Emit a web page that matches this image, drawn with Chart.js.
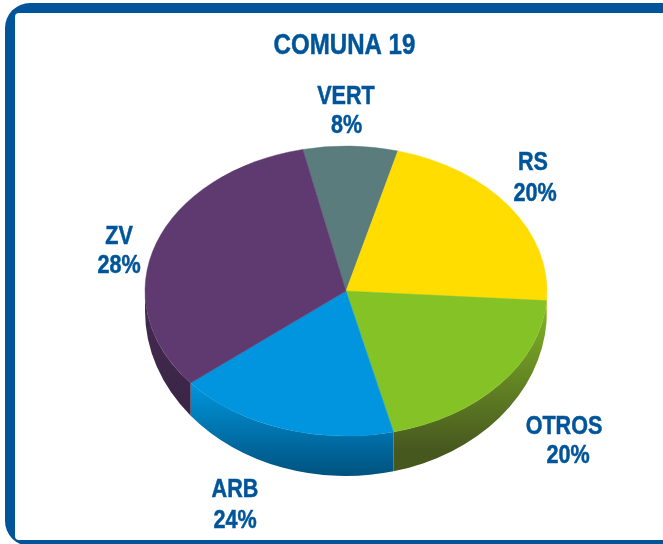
<!DOCTYPE html>
<html>
<head>
<meta charset="utf-8">
<title>Comuna 19</title>
<script src="https://cdn.jsdelivr.net/npm/chart.js@4/dist/chart.umd.min.js"></script>
<style>
    html, body { margin: 0; padding: 0; background: #fff; overflow: hidden; }
    canvas { display: block; }
</style>
</head>
<body>
<canvas id="graficoComuna" width="663" height="544"></canvas>
<script>
//Datos del grafico
const titulo = 'COMUNA 19';
const categorias = ['VERT', 'RS', 'OTROS', 'ARB', 'ZV'];
//Lo que dice cada etiqueta
const porcentajes = ['8%', '20%', '20%', '24%', '28%'];
//Tamano de cada tajada (no coincide con las etiquetas en el original)
const tajadas = [7.6, 21.9, 20.15, 17.85, 32.5];
const colores = ['#5b7c7c', '#ffdd00', '#85c226', '#0095de', '#5e3a71'];
const coloresLadoArriba = ['#5b7c7c', '#ffdd00', '#84b927', '#0095dc', '#432a50'];
const coloresLadoAbajo = ['#3c5252', '#a89200', '#47581f', '#00527f', '#3a2545'];
//Donde empieza y termina el degradado del lado de cada tajada
const ladoDesde = [300, 300, 300, 385, 300];
const ladoHasta = [476, 476, 450, 476, 420];

const AZUL = '#00559a';
const FUENTE = '"Liberation Sans", sans-serif';
//No hay Arial Narrow instalada, se angosta el texto a mano
const ANGOSTO = 0.83;

//Elipse de la cara superior y de la base del pastel
const centroX = 346, centroY = 291, radioY = 145;
const baseY = 311, baseRadioY = 165;

//Posicion de cada etiqueta: x1, y1, x2, y2
const posEtiquetas = [
    [346, 104, 346.5, 133],
    [533, 170, 535, 201],
    [564, 434, 568, 463],
    [235, 497, 235, 528],
    [119, 244, 119, 273]
];

//Marco azul redondeado, se sale por la derecha
const marco = {
    id: 'marco',
    beforeDraw(chart) {
        const ctx = chart.ctx;
        ctx.save();
        ctx.fillStyle = '#fff';
        ctx.fillRect(0, 0, chart.width, chart.height);
        ctx.fillStyle = AZUL;
        ctx.beginPath();
        ctx.roundRect(5, 3, 720, 543, 25);
        ctx.fill();
        ctx.fillStyle = '#fff';
        ctx.beginPath();
        ctx.roundRect(15, 13, 720, 527, 4);
        ctx.fill();
        ctx.restore();
    }
};

//Aplasta el pastel en una elipse y le dibuja el lado en 3D
const pastel3d = {
    id: 'pastel3d',
    beforeDatasetsDraw(chart) {
        const ctx = chart.ctx;
        const arcos = chart.getDatasetMeta(0).data;

        arcos.forEach((arco, i) => {
            const ini = Math.max(arco.startAngle, 0);
            const fin = Math.min(arco.endAngle, Math.PI);
            if (fin <= ini) return;
            const rx = arco.outerRadius;
            const grad = ctx.createLinearGradient(0, ladoDesde[i], 0, ladoHasta[i]);
            grad.addColorStop(0, coloresLadoArriba[i]);
            grad.addColorStop(1, coloresLadoAbajo[i]);
            ctx.fillStyle = grad;
            ctx.beginPath();
            ctx.ellipse(centroX, centroY, rx, radioY, 0, ini, fin);
            ctx.ellipse(centroX, baseY, rx, baseRadioY, 0, fin, ini, true);
            ctx.closePath();
            ctx.fill();
        });

        ctx.save();
        const arco = arcos[0];
        ctx.translate(centroX, centroY);
        ctx.scale(1, radioY / arco.outerRadius);
        ctx.translate(-arco.x, -arco.y);
    },
    afterDatasetsDraw(chart) {
        chart.ctx.restore();
    }
};

function textoAngosto(ctx, texto, x, y) {
    ctx.save();
    ctx.translate(x, y);
    ctx.scale(ANGOSTO, 1);
    //Un trazo fino para que pese como la negrita del original
    ctx.strokeText(texto, 0, 0);
    ctx.fillText(texto, 0, 0);
    ctx.restore();
}

const etiquetas = {
    id: 'etiquetas',
    afterDraw(chart) {
        const ctx = chart.ctx;
        ctx.save();
        ctx.fillStyle = AZUL;
        ctx.strokeStyle = AZUL;
        ctx.lineWidth = 0.5;
        ctx.textAlign = 'center';
        ctx.font = 'bold 29px ' + FUENTE;
        textoAngosto(ctx, titulo, 344.5, 54);
        ctx.font = 'bold 26px ' + FUENTE;
        categorias.forEach((nombre, i) => {
            const p = posEtiquetas[i];
            textoAngosto(ctx, nombre, p[0], p[1]);
            textoAngosto(ctx, porcentajes[i], p[2], p[3]);
        });
        ctx.restore();
    }
};

new Chart(document.getElementById('graficoComuna').getContext('2d'), {
    type: 'pie',
    data: {
        labels: categorias,
        datasets: [{
            data: tajadas,
            backgroundColor: colores,
            borderColor: colores,
            borderWidth: 0.5,
            clip: false
        }]
    },
    options: {
        responsive: false,
        animation: false,
        rotation: -12.4,
        radius: 201,
        layout: { padding: { top: 60, left: 26 } },
        plugins: {
            legend: { display: false },
            tooltip: { enabled: false }
        }
    },
    plugins: [marco, pastel3d, etiquetas]
});
</script>
</body>
</html>
